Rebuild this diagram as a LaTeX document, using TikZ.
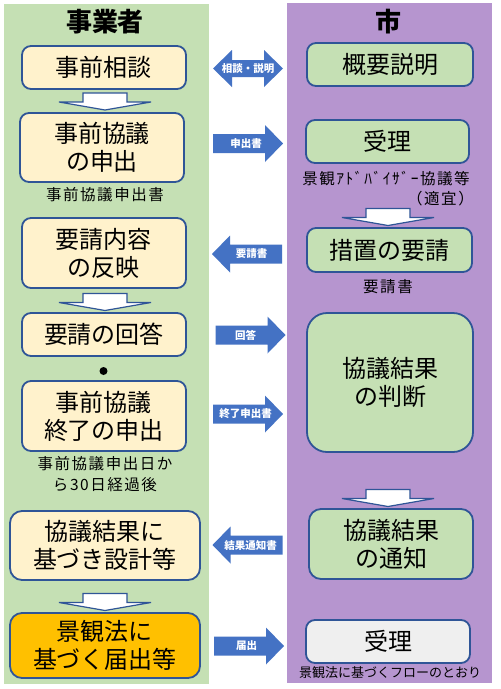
\documentclass[tikz,border=0pt]{standalone}
\usepackage{fontspec}
\setmainfont{Noto Sans CJK JP}
\newfontfamily\capfont{Noto Sans CJK JP}[LetterSpace=10]
\usetikzlibrary{calc}
\definecolor{pgreen}{HTML}{C5E0B4}
\definecolor{ppurple}{HTML}{B695CF}
\definecolor{bcream}{HTML}{FFF2CC}
\definecolor{bedge}{HTML}{2F5597}
\definecolor{borange}{HTML}{FFC000}
\definecolor{bgray}{HTML}{EFEFEF}
\definecolor{ablue}{HTML}{4472C4}
\tikzset{
  box/.style={draw=bedge, line width=1.8pt, rounded corners=9pt, align=center, inner sep=0pt, font=\fontsize{24}{28}\selectfont},
  lbox/.style={box, fill=bcream},
  rbox/.style={box, fill=pgreen},
  captxt/.style={inner sep=0pt, font=\capfont\fontsize{15.5}{21}\selectfont, align=center},
  alabel/.style={text=white, font=\bfseries\fontsize{10.5}{12}\selectfont, inner sep=0pt},
  titletxt/.style={inner sep=0pt, font=\bfseries\fontsize{26}{30}\selectfont},
  downarr/.style={fill=white, draw=bedge, line width=1.2pt, line join=miter},
  blockarr/.style={fill=ablue},
  downarrow/.pic={\draw[downarr] (-22,-8.5) -- (22,-8.5) -- (22,0.5) -- (46,0.5) -- (0,8.5) -- (-46,0.5) -- (-22,0.5) -- cycle;},
  rightarrow/.pic={\fill[blockarr] (-35,-9.5) -- (17,-9.5) -- (17,-18.5) -- (35,0) -- (17,18.5) -- (17,9.5) -- (-35,9.5) -- cycle;},
  botharrow/.pic={\fill[blockarr] (-35,0) -- (-16,-18.5) -- (-16,-8.5) -- (16,-8.5) -- (16,-18.5) -- (35,0) -- (16,18.5) -- (16,8.5) -- (-16,8.5) -- (-16,18.5) -- cycle;},
}
\begin{document}
\begin{tikzpicture}[x=1pt,y=-1pt]
\useasboundingbox (0,0) rectangle (501,689);
\fill[white] (0,0) rectangle (501,689);
% panels
\fill[pgreen] (4,4) rectangle (209,684);
\fill[ppurple] (287,3) rectangle (492,683);
\node[titletxt] (tl) at (105,22) {事業者};
\node[titletxt] (tr) at (388,22) {市};
% left boxes
\node[lbox, minimum width=164pt, minimum height=43pt] (l1) at (104,67.5) {事前相談};
\node[lbox, minimum width=164pt, minimum height=69pt] (l2) at (102,147.5) {事前協議\\の申出};
\node[captxt] (c2) at (105,195) {事前協議申出書};
\node[lbox, minimum width=164pt, minimum height=70pt] (l3) at (104,253) {要請内容\\の反映};
\node[lbox, minimum width=164pt, minimum height=43pt] (l4) at (104,334.5) {要請の回答};
\node[circle, fill=black, inner sep=0pt, minimum size=8pt] (dot) at (103.5,371) {};
\node[lbox, minimum width=164pt, minimum height=70pt] (l5) at (104,416) {事前協議\\終了の申出};
\node[captxt] (c5) at (105,474.5) {事前協議申出日か\\ら30日経過後};
\node[lbox, rounded corners=12pt, minimum width=190pt, minimum height=69pt] (l6) at (105,545.5) {協議結果に\\基づき設計等};
\node[box, fill=borange, rounded corners=12pt, minimum width=190pt, minimum height=65pt] (l7) at (105,645.5) {景観法に\\基づく届出等};
% right boxes
\node[rbox, minimum width=166pt, minimum height=43pt] (r1) at (390,64.5) {概要説明};
\node[rbox, minimum width=163pt, minimum height=43pt] (r2) at (387.5,141.5) {受理};
\node[captxt, font=\capfont\fontsize{15.5}{21}\selectfont] (c6) at (386,179) {景観ｱﾄﾞﾊﾞｲｻﾞｰ協議等};
\node[captxt, anchor=east] (c7) at (474,199) {（適宜）};
\node[rbox, minimum width=165pt, minimum height=44pt] (r3) at (389.5,250) {措置の要請};
\node[captxt] (c8) at (388,287) {要請書};
\node[rbox, rounded corners=20pt, minimum width=166pt, minimum height=139pt] (r4) at (390,382.5) {協議結果\\の判断};
\node[rbox, rounded corners=12pt, minimum width=164pt, minimum height=70pt] (r5) at (391,544) {協議結果\\の通知};
\node[box, fill=bgray, minimum width=164pt, minimum height=43pt] (r6) at (388,641.5) {受理};
\node[inner sep=0pt, font=\fontsize{13}{15}\selectfont] (c9) at (390,673) {景観法に基づくフローのとおり};
% down arrows
\pic at (105,101.5) {downarrow};
\pic at (105,302) {downarrow};
\pic at (105,602) {downarrow};
\pic at (388,217) {downarrow};
\pic at (388,498) {downarrow};
% horizontal arrows
\pic at (248,68.5) {botharrow};
\node[alabel] (a1) at (248,68.5) {相談・説明};
\pic at (248,143.5) {rightarrow};
\node[alabel] (a2) at (246,143.5) {申出書};
\pic[xscale=-1] at (247,254) {rightarrow};
\node[alabel] (a3) at (251.5,254) {要請書};
\pic at (250.5,335) {rightarrow};
\node[alabel] (a4) at (245.5,335) {回答};
\pic at (248,414) {rightarrow};
\node[alabel] (a5) at (245.5,414) {終了申出書};
\pic[xscale=-1] at (247.5,545) {rightarrow};
\node[alabel] (a6) at (250.5,545) {結果通知書};
\pic at (249,646) {rightarrow};
\node[alabel] (a7) at (246.5,646) {届出};
\end{tikzpicture}
\end{document}
